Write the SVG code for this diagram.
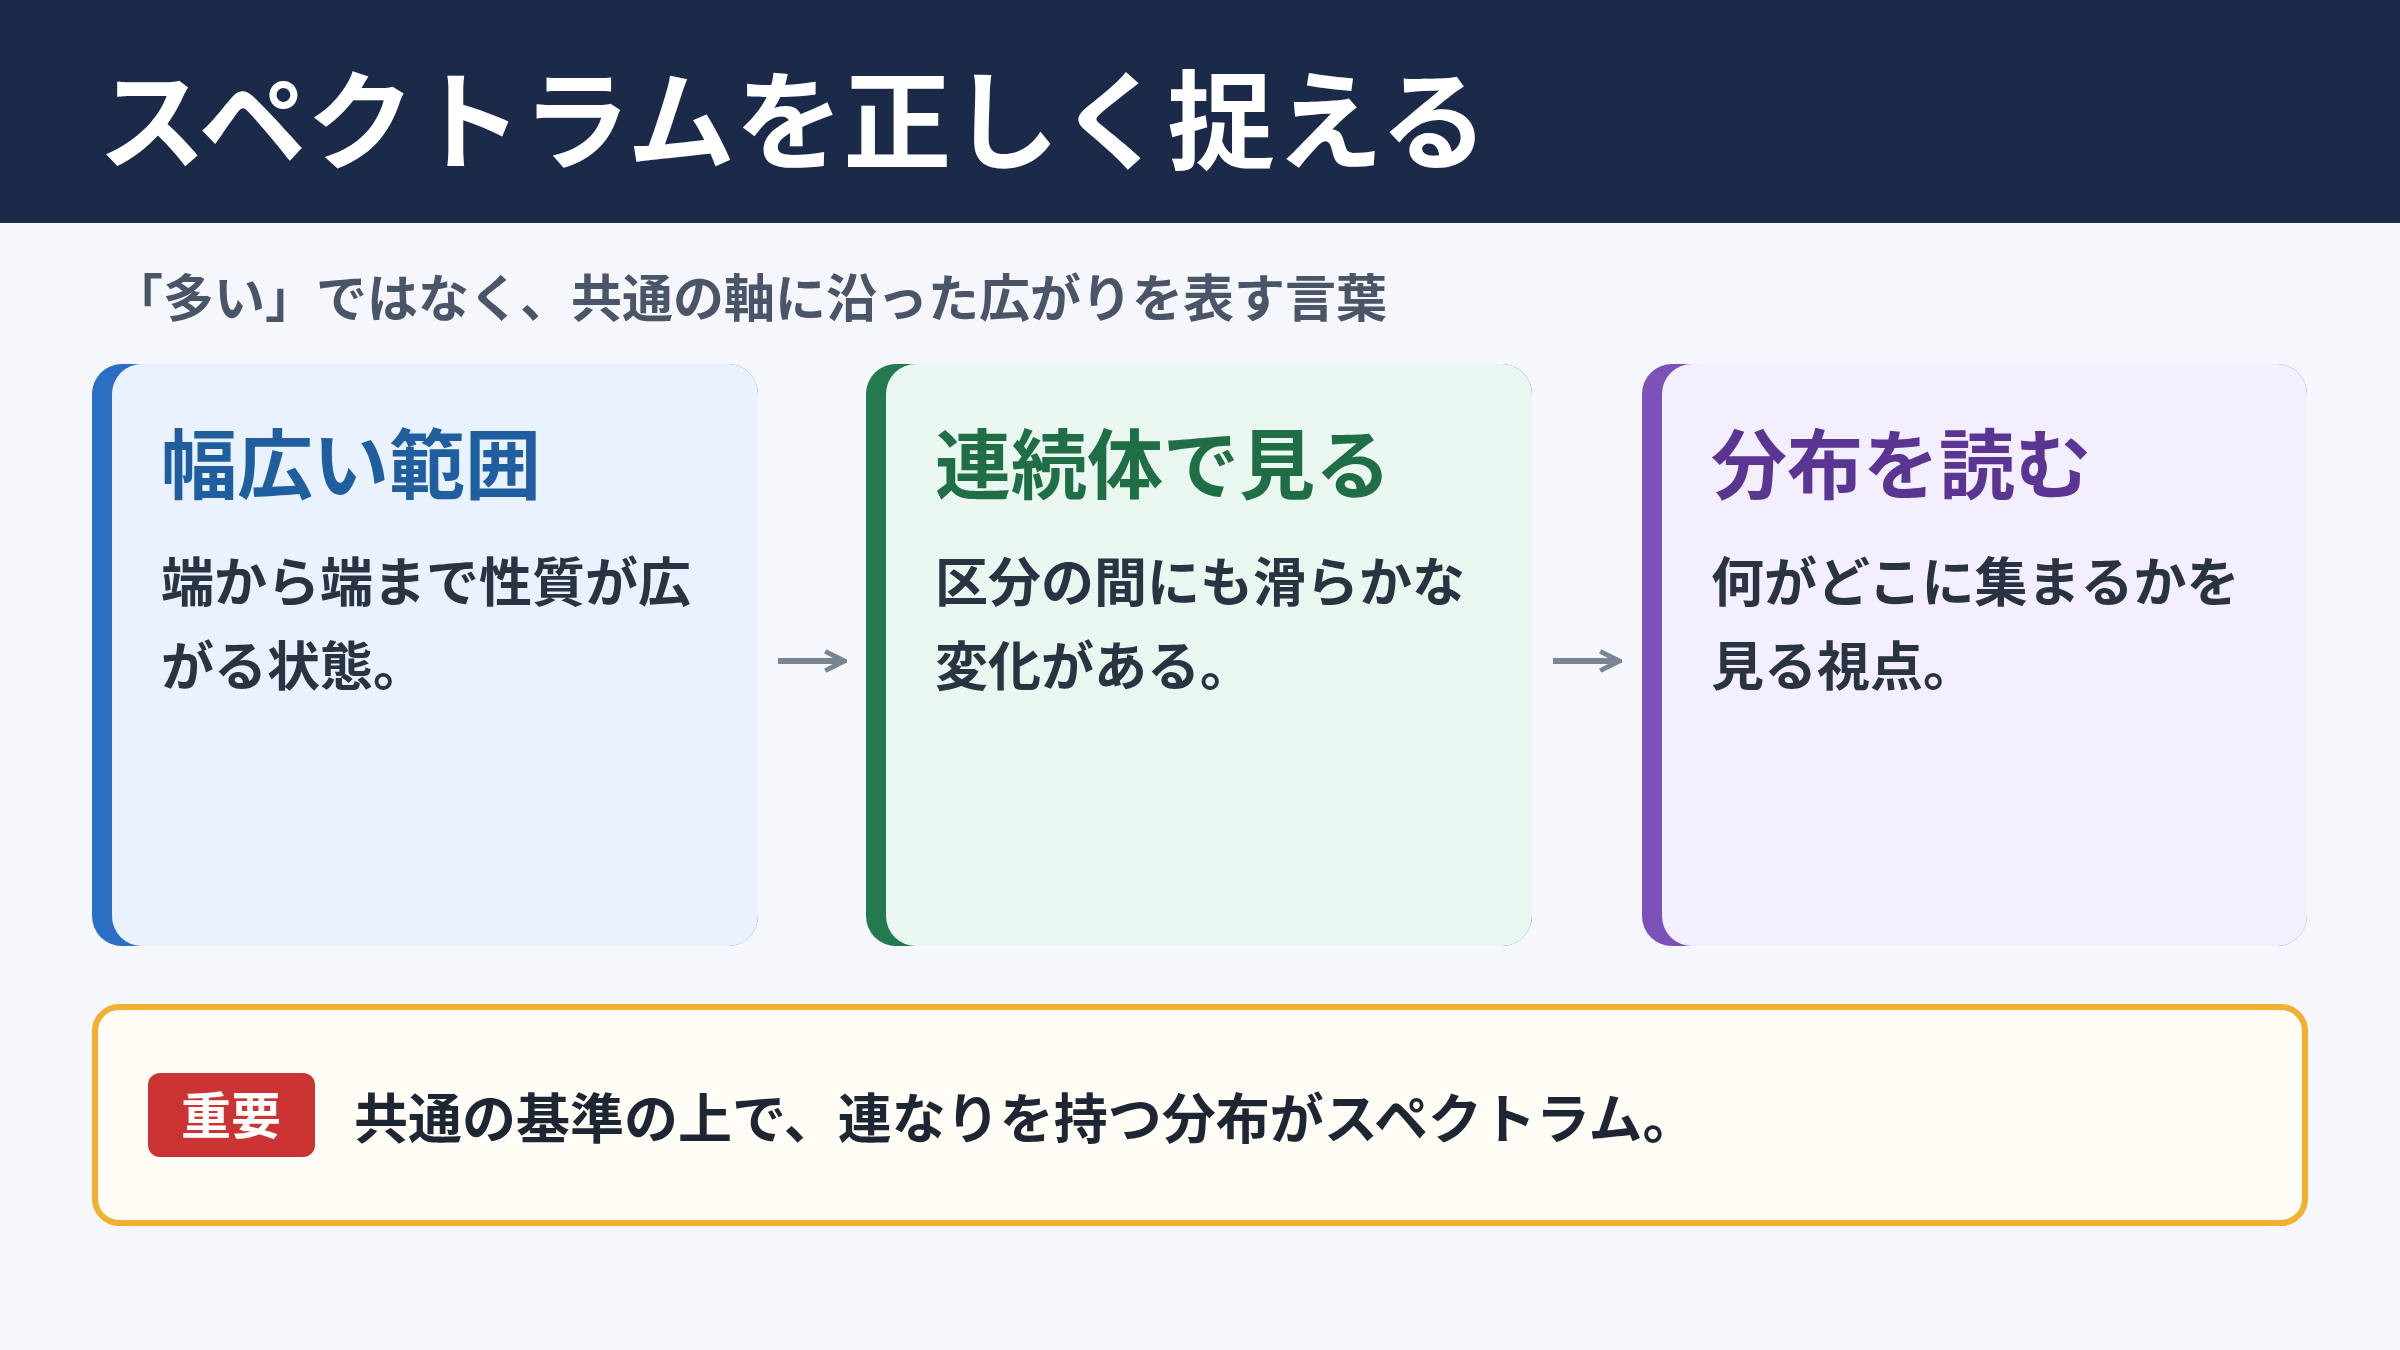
<svg xmlns="http://www.w3.org/2000/svg" width="2400" height="1350" viewBox="0 0 2400 1350">
<style>
text{font-family:"Noto Sans CJK JP","Noto Sans",sans-serif;font-weight:700}
.ct{font-size:76px}
.cb{font-size:53px;fill:#2a3342}
.ar{stroke:#7a8594;stroke-width:6;fill:none}
</style>
<defs><marker id="ah" viewBox="0 0 10 10" refX="8" refY="5" markerWidth="4" markerHeight="4" orient="auto"><path d="M1,1 L9,5 L1,9" fill="none" stroke="#7a8594" stroke-width="2"/></marker></defs>
<rect width="2400" height="1350" fill="#f5f7fc"/>
<g id="header"><rect width="2400" height="223" fill="#1c2a4a"/>
<text x="98" y="161" font-size="108" fill="#fff">スペクトラムを正しく捉える</text></g>
<text id="subtitle" x="112" y="317" font-size="51" fill="#4a5568">「多い」ではなく、共通の軸に沿った広がりを表す言葉</text>
<g id="card1"><rect x="92" y="364" width="666" height="582" rx="30" fill="#2a6fc4"/>
<rect x="112" y="364" width="646" height="582" rx="30" fill="#eaf2ff"/>
<text class="ct" x="161" y="493" fill="#1f5fa0">幅広い範囲</text>
<text class="cb" x="161" y="602">端から端まで性質が広</text><text class="cb" x="161" y="686">がる状態。</text></g>
<g id="card2"><rect x="866" y="364" width="666" height="582" rx="30" fill="#237a4f"/>
<rect x="886" y="364" width="646" height="582" rx="30" fill="#eaf7f0"/>
<text class="ct" x="935" y="493" fill="#1f6e45">連続体で見る</text>
<text class="cb" x="935" y="602">区分の間にも滑らかな</text><text class="cb" x="935" y="686">変化がある。</text></g>
<g id="card3"><rect x="1642" y="364" width="665" height="582" rx="30" fill="#7a52b8"/>
<rect x="1662" y="364" width="645" height="582" rx="30" fill="#f4efff"/>
<text class="ct" x="1711" y="493" fill="#5a3592">分布を読む</text>
<text class="cb" x="1711" y="602">何がどこに集まるかを</text><text class="cb" x="1711" y="686">見る視点。</text></g>
<g id="connectors">
<line class="ar" x1="778" y1="661" x2="842" y2="661" marker-end="url(#ah)"/>
<line class="ar" x1="1553" y1="661" x2="1617" y2="661" marker-end="url(#ah)"/>
</g>
<g id="note"><rect x="95" y="1007" width="2210" height="216" rx="24" fill="#fffdf5" stroke="#f0b030" stroke-width="6"/>
<rect x="148" y="1073" width="167" height="84" rx="12" fill="#cc3333"/>
<text x="231" y="1134" font-size="50" fill="#fff" text-anchor="middle">重要</text>
<text x="354" y="1139" font-size="54" fill="#1e2533">共通の基準の上で、連なりを持つ分布がスペクトラム。</text></g>
</svg>
